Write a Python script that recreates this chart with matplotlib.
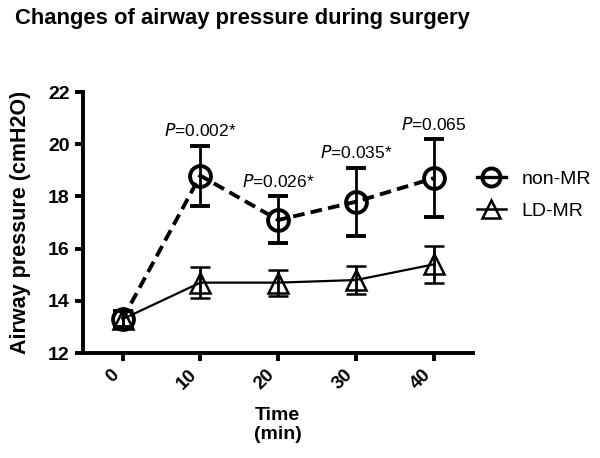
import matplotlib.pyplot as plt
from matplotlib.lines import Line2D

plt.rcParams['font.family'] = ['Liberation Sans', 'DejaVu Sans']

# data
time = [0, 10, 20, 30, 40]
non_mr = [13.3, 18.8, 17.1, 17.8, 18.7]
non_mr_err = [0.3, 1.15, 0.9, 1.3, 1.5]
ld_mr = [13.3, 14.7, 14.7, 14.8, 15.4]
ld_mr_err = [0.3, 0.6, 0.5, 0.55, 0.7]
p_labels = ["", "0.002*", "0.026*", "0.035*", "0.065"]
y_ticks = [12, 14, 16, 18, 20, 22]

fig = plt.figure(figsize=(6, 4.58), dpi=100)
ax = fig.add_axes([0.138, 0.229, 0.65, 0.57])

ax.errorbar(time, non_mr, yerr=non_mr_err, color="black", linestyle=(0, (3, 1.6)),
            linewidth=2.8, marker="o", markersize=15, markerfacecolor="none",
            markeredgewidth=2.8, elinewidth=2, capsize=7, capthick=2, zorder=3)
ax.errorbar(time, ld_mr, yerr=ld_mr_err, color="black", linestyle="-",
            linewidth=1.6, marker="^", markersize=14, markerfacecolor="none",
            markeredgewidth=1.8, elinewidth=2, capsize=7, capthick=2, zorder=3)

# p-value annotations above the upper error caps
for t, v, e, p in zip(time, non_mr, non_mr_err, p_labels):
    if p:
        ax.text(t, v + e + 0.25, r"$\it{P}$=" + p, ha="center", va="bottom",
                fontsize=12.5)

ax.set_xlim(-5.1, 45)
ax.set_ylim(12, 22)
ax.set_xticks(time)
ax.set_yticks(y_ticks)
ax.set_xticklabels([str(t) for t in time], rotation=45, ha="right",
                   fontweight="bold", fontsize=13.5)
ax.set_yticklabels([str(v) for v in y_ticks], fontweight="bold", fontsize=14)

for side in ["top", "right"]:
    ax.spines[side].set_visible(False)
for side in ["left", "bottom"]:
    ax.spines[side].set_linewidth(2.8)
ax.tick_params(width=2.8, length=6)

ax.set_xlabel("Time\n(min)", fontweight="bold", fontsize=14, labelpad=10)
ax.set_ylabel("Airway pressure (cmH2O)", fontweight="bold", fontsize=15.5, labelpad=12)

handles = [
    Line2D([], [], color="black", linewidth=2.4, marker="o", markersize=13,
           markerfacecolor="none", markeredgewidth=2.8),
    Line2D([], [], color="black", linewidth=1.8, marker="^", markersize=13,
           markerfacecolor="none", markeredgewidth=1.8),
]
ax.legend(handles, ["non-MR", "LD-MR"], loc="center left",
          bbox_to_anchor=(0.965, 0.605), frameon=False, fontsize=14,
          handlelength=1.5, handletextpad=0.8, labelspacing=0.75)

fig.text(0.025, 0.96, "Changes of airway pressure during surgery",
         fontweight="bold", fontsize=15.8, ha="left", va="center")

fig.savefig("out.png", dpi=100)
